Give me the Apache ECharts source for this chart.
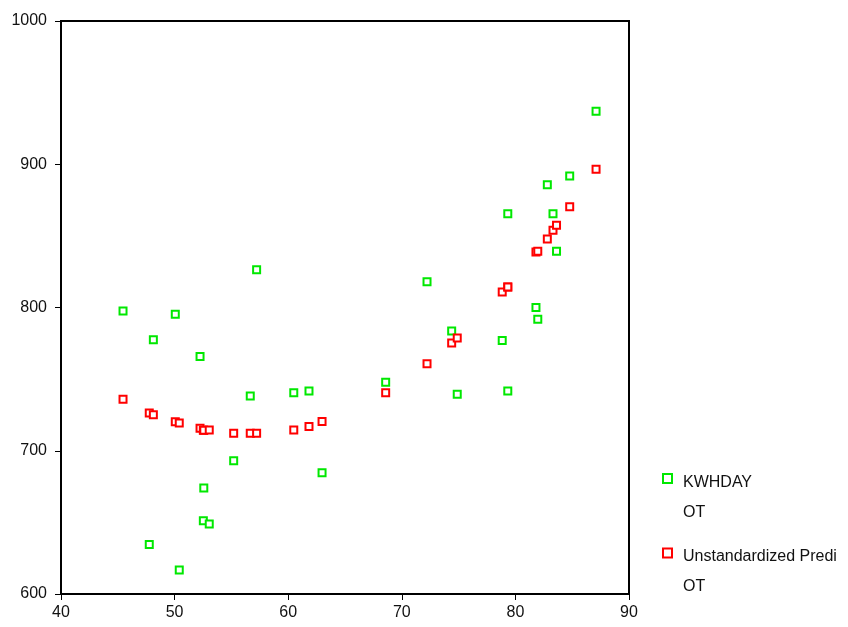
<!DOCTYPE html>
<html>
<head>
<meta charset="utf-8">
<script src="https://cdn.jsdelivr.net/npm/echarts@6/dist/echarts.min.js"></script>
<style>
html,body{margin:0;padding:0;background:#fff;}
#c{width:848px;height:627px;}
</style>
</head>
<body>
<div id="c"></div>
<script>
// X values (shared by both series)
const xValues = [45.46, 47.77, 48.13, 50.06, 50.41, 52.24, 52.53, 52.57, 53.05, 55.20,
  56.66, 57.22, 60.49, 61.83, 62.98, 68.58, 72.22, 74.39, 74.88, 78.84,
  79.33, 79.33, 81.81, 81.97, 82.81, 83.31, 83.62, 84.78, 87.10];
// Observed KWHDAY
const kwhday = [797.6, 634.6, 777.5, 795.3, 616.8, 765.8, 651.2, 674.0, 648.9, 693.1,
  738.2, 826.4, 740.5, 741.7, 684.7, 747.8, 818.0, 783.6, 739.4, 777.0,
  741.7, 865.5, 800.0, 791.8, 885.7, 865.5, 839.3, 891.8, 937.0];
// Unstandardized predicted values
const predicted = [735.9, 726.4, 725.2, 720.3, 719.4, 715.7, 714.3, 714.3, 714.5, 712.2,
  712.2, 712.2, 714.5, 716.9, 720.4, 740.5, 760.8, 775.2, 778.7, 810.8,
  814.3, 814.3, 838.7, 839.2, 847.8, 853.9, 857.4, 870.4, 896.5];
const seriesNames = ['KWHDAY', 'Unstandardized Predi'];
const seriesSub = ['OT', 'OT'];
const xTicks = {min: 40, max: 90, interval: 10};
const yTicks = {min: 600, max: 1000, interval: 100};

const FONT = 'Liberation Sans';
const GREEN = '#00e800', RED = '#ff0000';
const chart = echarts.init(document.getElementById('c'), null, {renderer: 'canvas'});
const pair = (ys) => xValues.map((x, i) => [x, ys[i]]);
const mk = (name, ys, color) => ({
  name: name, type: 'scatter', data: pair(ys),
  symbol: 'rect', symbolSize: 7,
  itemStyle: {color: '#fff', borderColor: color, borderWidth: 2, opacity: 1},
  emphasis: {disabled: true}
});
chart.setOption({
  animation: false,
  backgroundColor: '#fff',
  grid: {left: 61, top: 21, right: 219, bottom: 33, show: true, borderColor: '#000', borderWidth: 2, backgroundColor: 'transparent'},
  xAxis: {
    type: 'value', min: xTicks.min, max: xTicks.max, interval: xTicks.interval,
    axisLine: {show: true, onZero: false, lineStyle: {color: '#000', width: 2}},
    axisTick: {show: true, length: 6, lineStyle: {color: '#000', width: 1}},
    axisLabel: {color: '#111', fontFamily: FONT, fontSize: 16, margin: 11, formatter: v => String(v)},
    splitLine: {show: false}
  },
  yAxis: {
    type: 'value', min: yTicks.min, max: yTicks.max, interval: yTicks.interval,
    axisLine: {show: true, onZero: false, lineStyle: {color: '#000', width: 2}},
    axisTick: {show: true, length: 6, lineStyle: {color: '#000', width: 1}},
    axisLabel: {color: '#111', fontFamily: FONT, fontSize: 16, margin: 14, formatter: v => String(v)},
    splitLine: {show: false}
  },
  legend: {
    orient: 'vertical', left: 657, top: 468,
    itemWidth: 9, itemHeight: 9, itemGap: 57,
    icon: 'rect',
    formatter: n => '{a|' + n + '}',
    textStyle: {color: '#111', fontFamily: FONT, fontSize: 16,
      rich: {a: {color: '#111', fontFamily: FONT, fontSize: 16, padding: [8, 0, 0, 6]}}},
    data: [
      {name: seriesNames[0], itemStyle: {color: '#fff', borderColor: GREEN, borderWidth: 2}},
      {name: seriesNames[1], itemStyle: {color: '#fff', borderColor: RED, borderWidth: 2}}
    ],
    selectedMode: false
  },
  graphic: [
    {type: 'text', left: 683, top: 505, style: {text: seriesSub[0], fill: '#111', font: '16px ' + FONT}},
    {type: 'text', left: 683, top: 579, style: {text: seriesSub[1], fill: '#111', font: '16px ' + FONT}}
  ],
  series: [mk(seriesNames[0], kwhday, GREEN), mk(seriesNames[1], predicted, RED)]
});
</script>
</body>
</html>
